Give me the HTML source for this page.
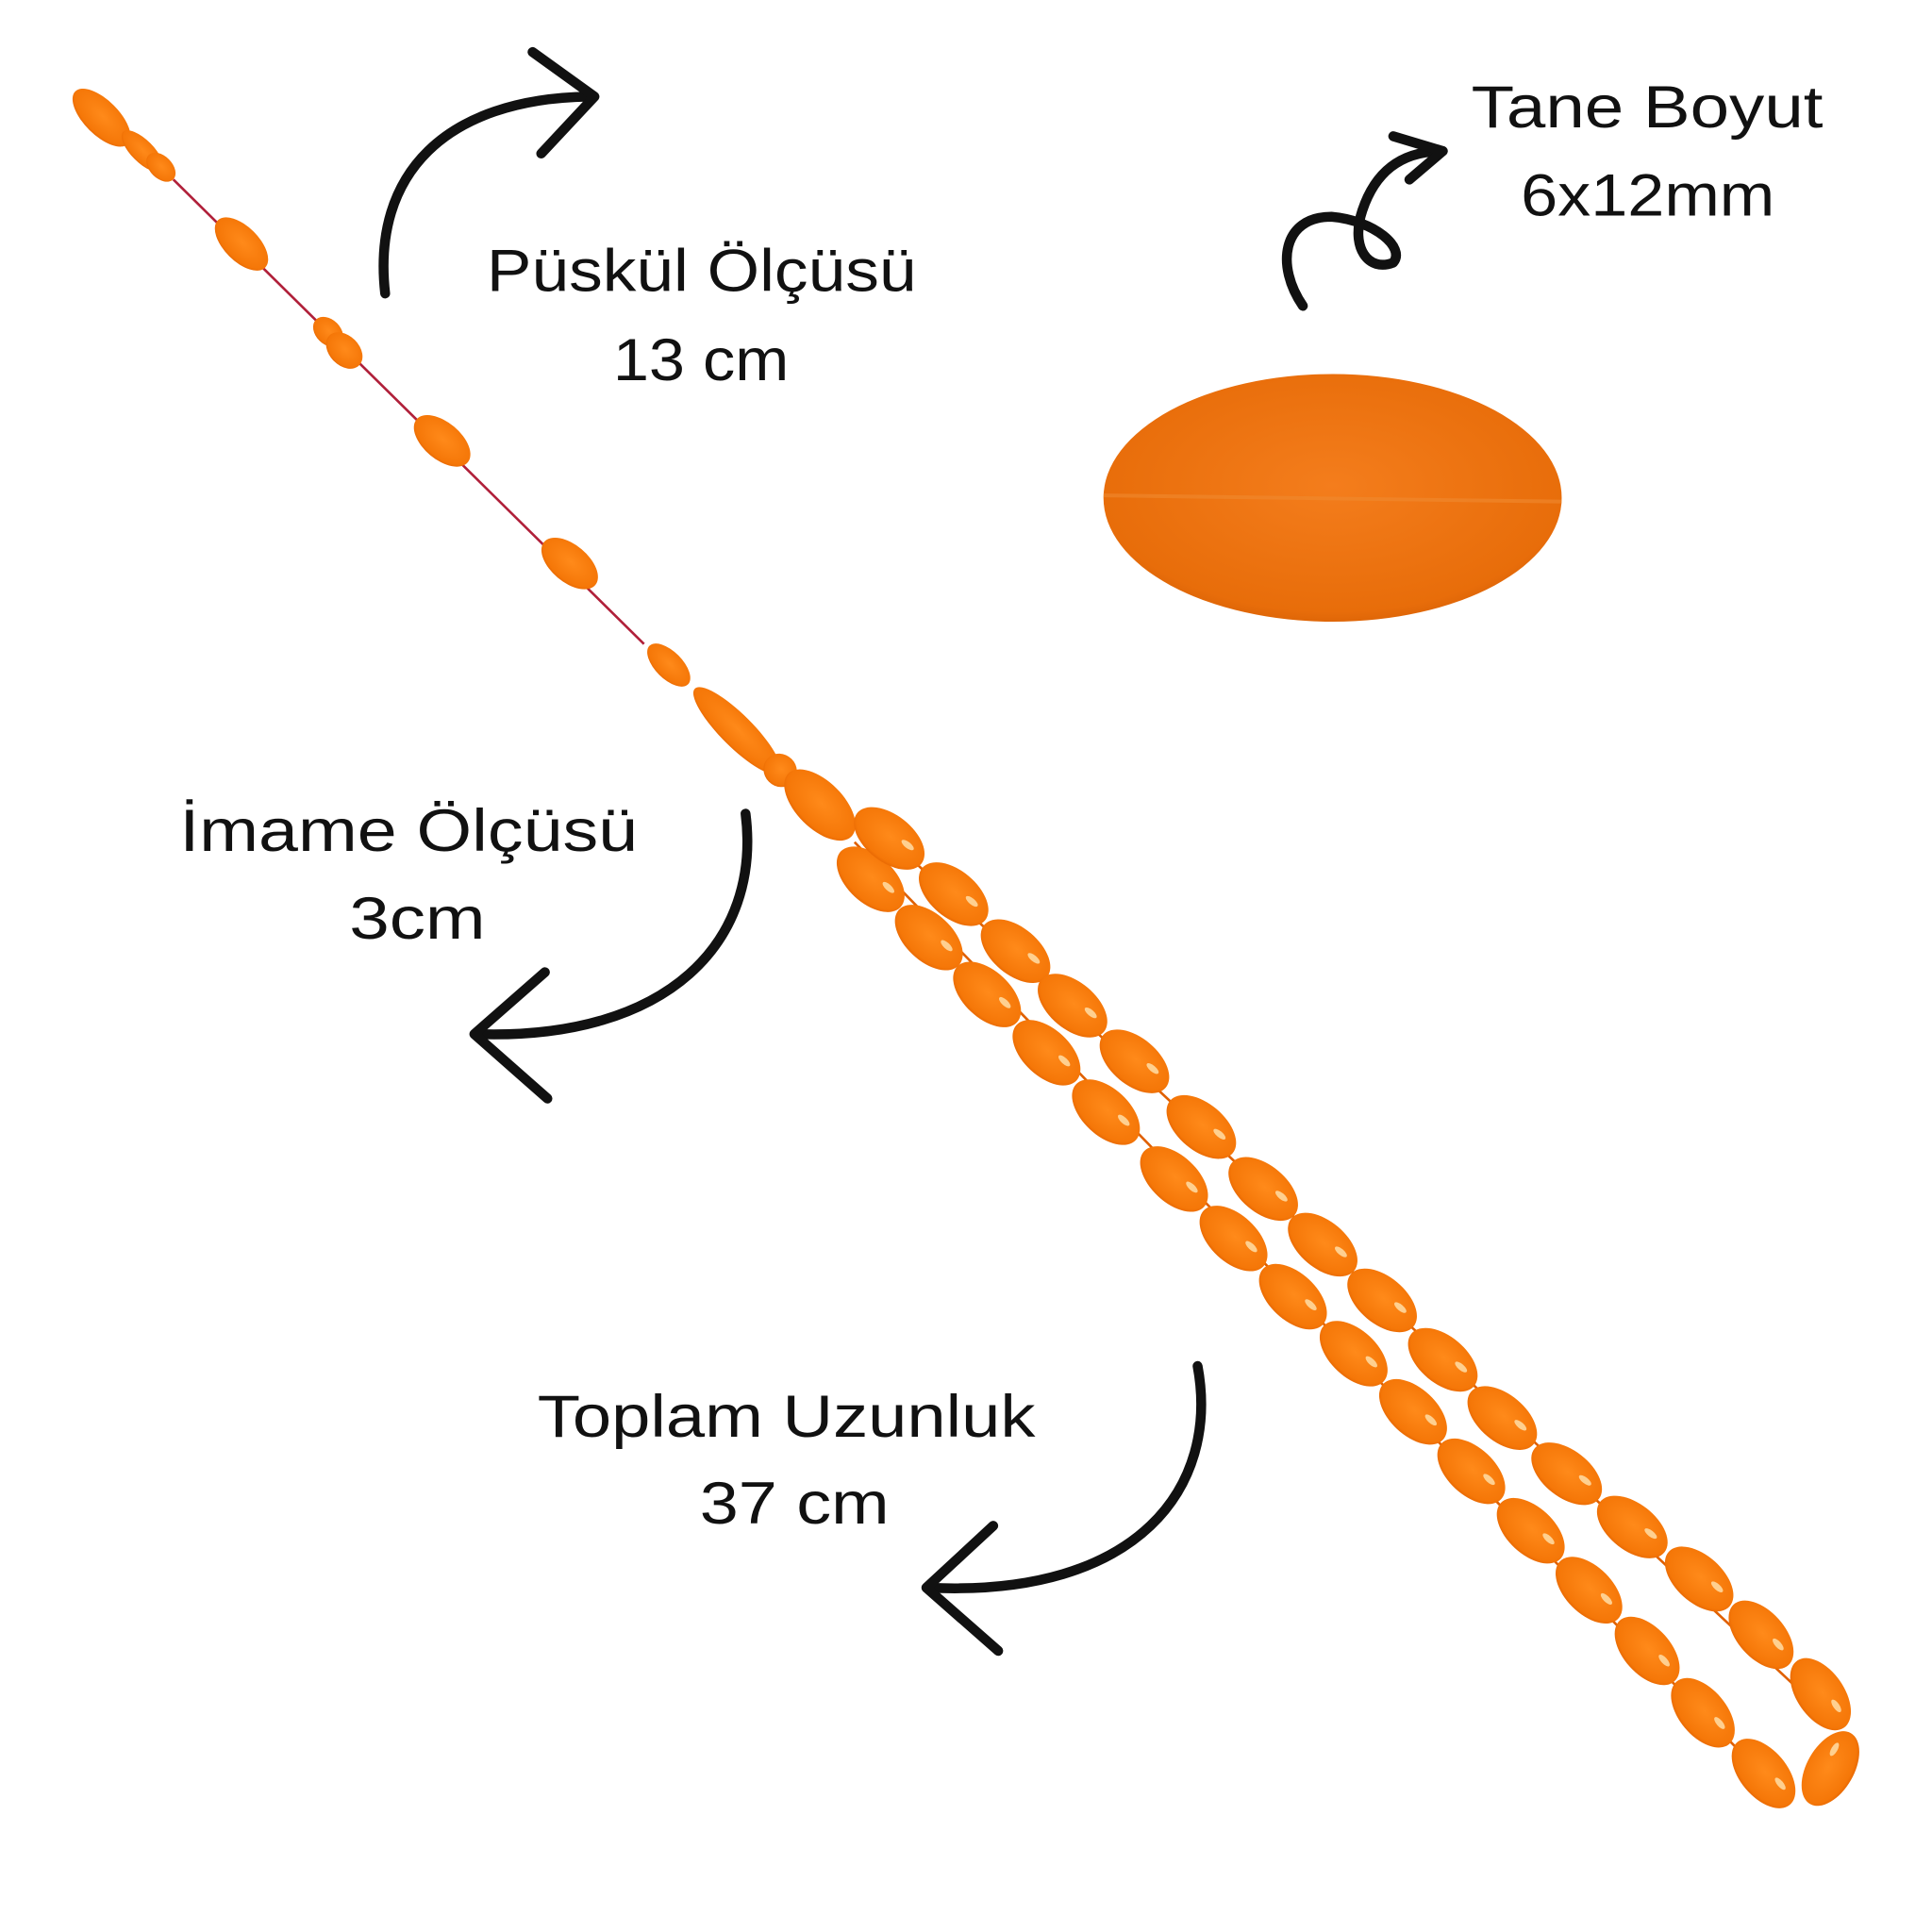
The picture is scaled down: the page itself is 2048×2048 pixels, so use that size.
<!DOCTYPE html>
<html><head><meta charset="utf-8"><style>
html,body{margin:0;padding:0;background:#fff;}
svg{display:block;}
text{font-family:"Liberation Sans",sans-serif;font-size:48px;fill:#111;}
</style></head><body>
<svg width="2048" height="2048" viewBox="0 0 1560 1560" xmlns="http://www.w3.org/2000/svg">
<defs>
<radialGradient id="g" cx="50%" cy="45%" r="60%">
<stop offset="0" stop-color="#ff8a1a"/><stop offset="0.8" stop-color="#f57708"/><stop offset="1" stop-color="#e06000"/>
</radialGradient>
<radialGradient id="gb" cx="50%" cy="45%" r="60%">
<stop offset="0" stop-color="#f47d1c"/><stop offset="0.85" stop-color="#e86d0a"/><stop offset="1" stop-color="#d45e05"/>
</radialGradient>
<g id="bd"><ellipse rx="33" ry="19" fill="url(#g)"/><ellipse cx="15" cy="-5" rx="6" ry="2.5" fill="#ffe3b0" opacity="0.8"/></g>
</defs>
<path d="M140 145 L520 520" stroke="#b0203a" stroke-width="2" fill="none"/>
<path d="M690 680 L1430 1440 M700 660 L1480 1390" stroke="#e06000" stroke-width="2" fill="none"/>
<g fill="url(#g)">
<ellipse cx="82" cy="95" rx="30" ry="14" transform="rotate(45 82 95)"/>
<ellipse cx="115" cy="122" rx="22" ry="9" transform="rotate(45 115 122)"/>
<ellipse cx="130" cy="135" rx="14" ry="9" transform="rotate(45 130 135)"/>
<ellipse cx="195" cy="197" rx="27" ry="14" transform="rotate(45 195 197)"/>
<ellipse cx="265" cy="268" rx="14" ry="10" transform="rotate(45 265 268)"/>
<ellipse cx="278" cy="283" rx="17" ry="12" transform="rotate(45 278 283)"/>
<ellipse cx="357" cy="356" rx="27" ry="15" transform="rotate(40 357 356)"/>
<ellipse cx="460" cy="455" rx="27" ry="15" transform="rotate(40 460 455)"/>
<ellipse cx="540" cy="537" rx="22" ry="11" transform="rotate(45 540 537)"/>
<ellipse cx="595" cy="590" rx="48" ry="13" transform="rotate(45 595 590)"/>
<ellipse cx="630" cy="622" rx="14" ry="13" transform="rotate(45 630 622)"/>
<ellipse cx="662" cy="650" rx="36" ry="19" transform="rotate(45 662 650)"/>
</g>
<g>
<use href="#bd" transform="translate(703,710) rotate(43)"/>
<use href="#bd" transform="translate(750,757) rotate(43)"/>
<use href="#bd" transform="translate(797,803) rotate(43)"/>
<use href="#bd" transform="translate(845,850) rotate(43)"/>
<use href="#bd" transform="translate(893,898) rotate(43)"/>
<use href="#bd" transform="translate(948,952) rotate(43)"/>
<use href="#bd" transform="translate(996,1000) rotate(43)"/>
<use href="#bd" transform="translate(1044,1047) rotate(43)"/>
<use href="#bd" transform="translate(1093,1093) rotate(43)"/>
<use href="#bd" transform="translate(1141,1140) rotate(43)"/>
<use href="#bd" transform="translate(1188,1188) rotate(43)"/>
<use href="#bd" transform="translate(1236,1236) rotate(43)"/>
<use href="#bd" transform="translate(1283,1284) rotate(45)"/>
<use href="#bd" transform="translate(1330,1333) rotate(48)"/>
<use href="#bd" transform="translate(1375,1383) rotate(50)"/>
<use href="#bd" transform="translate(1424,1432) rotate(50)"/>
<use href="#bd" transform="translate(718,677) rotate(38)"/>
<use href="#bd" transform="translate(770,722) rotate(40)"/>
<use href="#bd" transform="translate(820,768) rotate(40)"/>
<use href="#bd" transform="translate(866,812) rotate(40)"/>
<use href="#bd" transform="translate(916,857) rotate(40)"/>
<use href="#bd" transform="translate(970,910) rotate(40)"/>
<use href="#bd" transform="translate(1020,960) rotate(40)"/>
<use href="#bd" transform="translate(1068,1005) rotate(40)"/>
<use href="#bd" transform="translate(1116,1050) rotate(40)"/>
<use href="#bd" transform="translate(1165,1098) rotate(40)"/>
<use href="#bd" transform="translate(1213,1145) rotate(40)"/>
<use href="#bd" transform="translate(1265,1190) rotate(38)"/>
<use href="#bd" transform="translate(1318,1233) rotate(38)"/>
<use href="#bd" transform="translate(1372,1275) rotate(42)"/>
<use href="#bd" transform="translate(1422,1320) rotate(48)"/>
<use href="#bd" transform="translate(1470,1368) rotate(55)"/>
<use href="#bd" transform="translate(1478,1428) rotate(-60)"/>
</g>
<ellipse cx="1076" cy="402" rx="185" ry="100" fill="url(#gb)"/>
<line x1="891" y1="400" x2="1261" y2="405" stroke="#f08a30" stroke-width="3" opacity="0.6"/>
<g stroke="#111" stroke-width="8" fill="none" stroke-linecap="round" stroke-linejoin="round">
<path d="M311 237 C300 140 360 80 475 78"/>
<path d="M430 42 L480 78 L437 124"/>
<path d="M602 657 C615 760 540 840 385 835"/>
<path d="M440 785 L383 835 L442 887"/>
<path d="M967 1103 C985 1200 920 1290 750 1282"/>
<path d="M802 1232 L748 1282 L806 1333"/>
<path d="M1052 247 C1030 215 1035 175 1075 175 C1110 178 1135 200 1125 212 C1105 220 1090 200 1100 170 C1110 140 1130 122 1165 122"/>
<path d="M1125 110 L1165 122 L1138 145"/>
</g>
<text x="393" y="235" textLength="347" lengthAdjust="spacingAndGlyphs">Püskül Ölçüsü</text>
<text x="495" y="307" textLength="142" lengthAdjust="spacingAndGlyphs">13 cm</text>
<text x="145" y="687" textLength="370" lengthAdjust="spacingAndGlyphs">İmame Ölçüsü</text>
<text x="282" y="758" textLength="110" lengthAdjust="spacingAndGlyphs">3cm</text>
<text x="434" y="1160" textLength="402" lengthAdjust="spacingAndGlyphs">Toplam Uzunluk</text>
<text x="565" y="1230" textLength="153" lengthAdjust="spacingAndGlyphs">37 cm</text>
<text x="1188" y="103" textLength="284" lengthAdjust="spacingAndGlyphs">Tane Boyut</text>
<text x="1228" y="174" textLength="205" lengthAdjust="spacingAndGlyphs">6x12mm</text>
</svg>
</body></html>
